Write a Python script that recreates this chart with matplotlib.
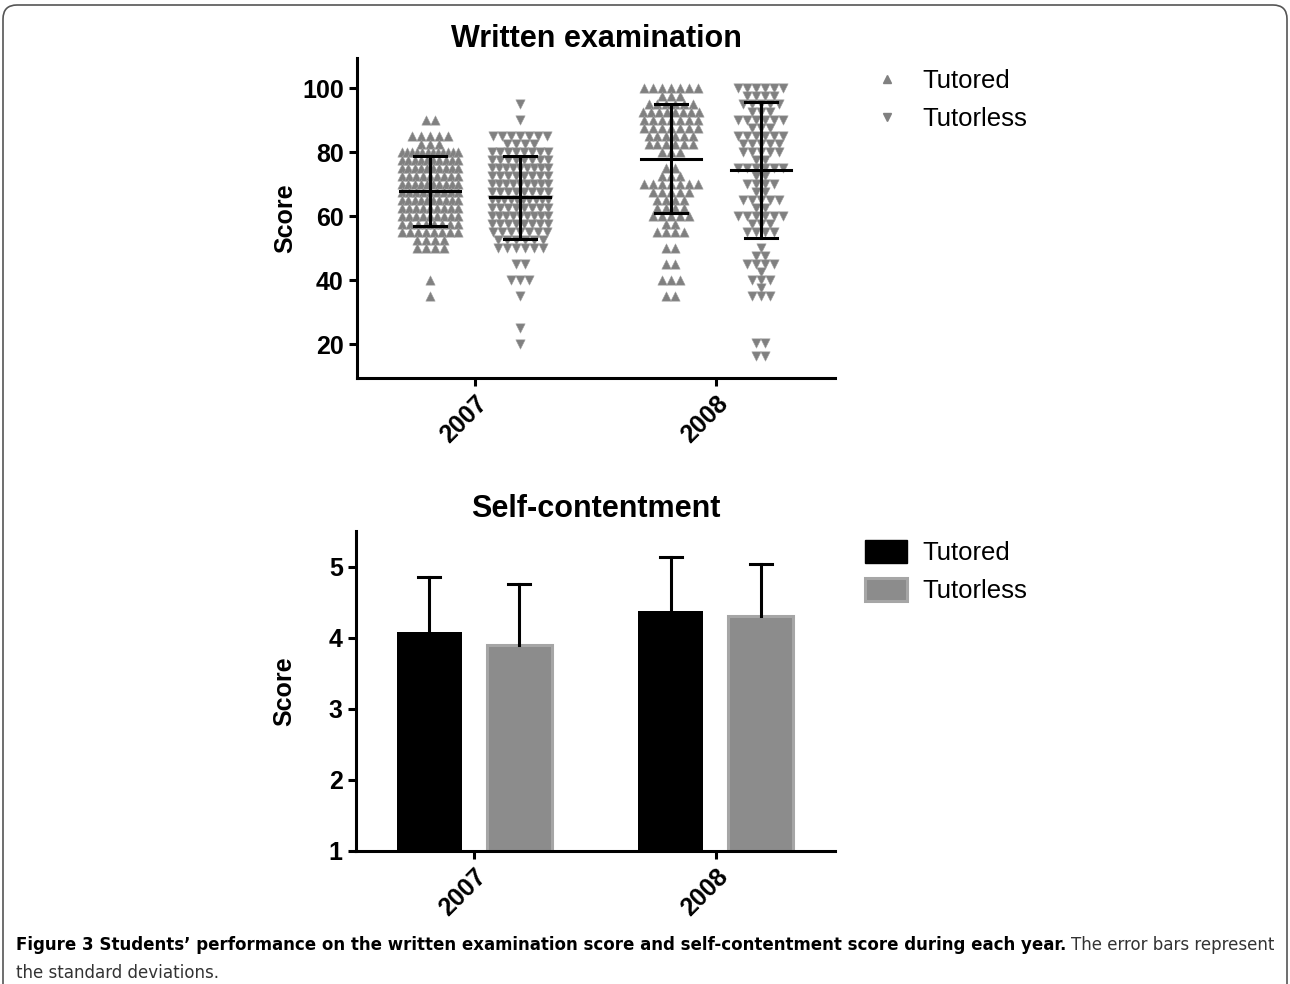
import numpy as np
import matplotlib
matplotlib.use('Agg')
import matplotlib.pyplot as plt
from matplotlib import font_manager
from matplotlib.patches import FancyBboxPatch, Patch
from matplotlib.lines import Line2D
from matplotlib.transforms import IdentityTransform

plt.rcParams['font.family'] = ['Liberation Sans', 'DejaVu Sans']

years = ['2007', '2008']

# written examination: score levels and number of students at each level
tut07_vals = [90, 85, 82.5, 80, 77.5, 75, 72.5, 70, 67.5, 65, 62.5, 60, 57.5, 55, 52.5, 50, 40, 35]
tut07_cnt = [2, 5, 3, 12, 10, 10, 9, 10, 9, 10, 9, 9, 8, 8, 4, 4, 1, 1]

less07_vals = [95, 90, 85, 82.5, 80, 77.5, 75, 72.5, 70, 67.5, 65, 62.5, 60, 57.5, 55, 52.5, 50,
               45, 40, 35, 25, 20]
less07_cnt = [1, 1, 7, 4, 8, 8, 9, 8, 9, 8, 10, 8, 9, 8, 7, 6, 6, 2, 3, 1, 1, 1]

tut08_vals = [100, 97.5, 95, 92.5, 90, 87.5, 85, 82.5, 80, 75, 72.5, 70, 67.5, 65, 62.5, 60, 57.5,
              55, 50, 45, 40, 35]
tut08_cnt = [7, 3, 6, 8, 7, 7, 6, 6, 3, 2, 3, 7, 5, 4, 4, 5, 2, 4, 2, 2, 3, 2]

less08_vals = [100, 97.5, 95, 92.5, 90, 87.5, 85, 82.5, 80, 77.5, 75, 72.5, 70, 67.5, 65, 62.5, 60,
               57.5, 55, 50, 47.5, 45, 42.5, 40, 37.5, 35, 20.5, 16.5]
less08_cnt = [6, 4, 5, 3, 6, 3, 6, 5, 5, 2, 6, 2, 4, 2, 5, 2, 6, 3, 4, 1, 2, 4, 1, 3, 1, 3, 2, 2]

# mean and standard deviation (error bars)
exam_mean_tut = [68, 78]
exam_sd_tut = [11, 17]
exam_mean_less = [66, 74.4]
exam_sd_less = [13, 21.2]

# self-contentment
self_mean_tut = [4.08, 4.38]
self_sd_tut = [0.78, 0.76]
self_mean_less = [3.89, 4.30]
self_sd_less = [0.87, 0.73]

caption_bold = ('Figure 3 Students\u2019 performance on the written examination score and '
                'self-contentment score during each year.')
caption_normal = 'The error bars represent'
caption_line2 = 'the standard deviations.'

GRAY = '#808080'
BAR_GRAY = '#8c8c8c'
BAR_EDGE = '#a6a6a6'
LW = 2.2
FS = 18

W, H = 1290, 984
fig = plt.figure(figsize=(W / 100, H / 100), dpi=100)


def ax_rect(left, right, top, bottom):
    return [left / W, 1 - bottom / H, (right - left) / W, (bottom - top) / H]


def style_axes(ax):
    for s in ['top', 'right']:
        ax.spines[s].set_visible(False)
    for s in ['left', 'bottom']:
        ax.spines[s].set_linewidth(LW)
    ax.tick_params(width=LW, length=6, labelsize=FS, direction='out')
    for lab in ax.get_yticklabels() + ax.get_xticklabels():
        lab.set_fontweight('bold')
    ax.set_xticks([0, 1])
    ax.set_xticklabels(years, rotation=45, ha='right', rotation_mode='anchor',
                       fontweight='bold', fontsize=FS)
    ax.set_ylabel('Score', fontsize=FS, fontweight='bold')
    ax.yaxis.set_label_coords(-0.125, 0.5)
    ax.set_xlim(-0.49, 1.494)


def swarm(vals, cnts, center):
    # spread points with the same score side by side around the column center
    px = 1 / 241.0
    xs, ys = [], []
    for v, n in zip(vals, cnts):
        step = 9 * px if n < 2 else min(9 * px, 56 * px / (n - 1))
        offs = (np.arange(n) - (n - 1) / 2) * step
        xs.extend(center + offs)
        ys.extend([v] * n)
    return xs, ys


off = 45 / 241.0

# ---------- Written examination ----------
ax1 = fig.add_axes(ax_rect(357, 835, 58, 378))
groups = [(tut07_vals, tut07_cnt, 0 - off, '^'),
          (less07_vals, less07_cnt, 0 + off, 'v'),
          (tut08_vals, tut08_cnt, 1 - off, '^'),
          (less08_vals, less08_cnt, 1 + off, 'v')]
for vals, cnts, c, m in groups:
    xs, ys = swarm(vals, cnts, c)
    ax1.scatter(xs, ys, marker=m, s=45, color=GRAY, edgecolors='#a0a0a0', linewidths=0.4,
                zorder=2)

means = [exam_mean_tut[0], exam_mean_less[0], exam_mean_tut[1], exam_mean_less[1]]
sds = [exam_sd_tut[0], exam_sd_less[0], exam_sd_tut[1], exam_sd_less[1]]
centers = [0 - off, 0 + off, 1 - off, 1 + off]
mw = 30 / 241.0
cw = 16 / 241.0
for c, mu, sd in zip(centers, means, sds):
    ax1.plot([c - mw, c + mw], [mu, mu], color='black', lw=LW, zorder=3)
    ax1.plot([c, c], [mu - sd, mu + sd], color='black', lw=LW, zorder=3)
    ax1.plot([c - cw, c + cw], [mu + sd, mu + sd], color='black', lw=LW, zorder=3)
    ax1.plot([c - cw, c + cw], [mu - sd, mu - sd], color='black', lw=LW, zorder=3)

ax1.set_ylim(9.5, 109.5)
ax1.set_yticks([20, 40, 60, 80, 100])
style_axes(ax1)
ax1.set_title('Written examination', fontsize=22, fontweight='bold', pad=8)

h1 = [Line2D([], [], marker='^', ls='none', color=GRAY, ms=6),
      Line2D([], [], marker='v', ls='none', color=GRAY, ms=6)]
ax1.legend(h1, ['Tutored', 'Tutorless'], loc='upper left', bbox_to_anchor=(861 / W, 1 - 69 / H),
           bbox_transform=fig.transFigure, frameon=False, fontsize=18.5, handlelength=2.0,
           handletextpad=0.39, labelspacing=0.56, borderpad=0, borderaxespad=0)

# ---------- Self-contentment ----------
ax2 = fig.add_axes(ax_rect(356, 835, 531, 851))
bw = 65 / 241.0
x = np.arange(len(years))
ax2.bar(x - off, np.array(self_mean_tut) - 1, bw, bottom=1, color='black', zorder=2)
ax2.bar(x + off, np.array(self_mean_less) - 1, bw, bottom=1, color=BAR_GRAY,
        edgecolor=BAR_EDGE, linewidth=2.2, zorder=2)
ecw = 11 / 241.0
for xs, mu, sd in [(x - off, self_mean_tut, self_sd_tut), (x + off, self_mean_less, self_sd_less)]:
    for xi, m, s in zip(xs, mu, sd):
        ax2.plot([xi, xi], [m, m + s], color='black', lw=LW, zorder=3)
        ax2.plot([xi - ecw, xi + ecw], [m + s, m + s], color='black', lw=LW, zorder=3)

ax2.set_ylim(1, 5.5)
ax2.set_yticks([1, 2, 3, 4, 5])
style_axes(ax2)
ax2.set_title('Self-contentment', fontsize=22, fontweight='bold', pad=10)

h2 = [Patch(facecolor='black', edgecolor='black'),
      Patch(facecolor=BAR_GRAY, edgecolor=BAR_EDGE, linewidth=2.2)]
ax2.legend(h2, ['Tutored', 'Tutorless'], loc='upper left', bbox_to_anchor=(865 / W, 1 - 540 / H),
           bbox_transform=fig.transFigure, frameon=False, fontsize=18.5, handlelength=1.63,
           handleheight=1.0, handletextpad=0.62, labelspacing=0.5, borderpad=0, borderaxespad=0)

# ---------- frame and caption ----------
frame = FancyBboxPatch((3, -30), W - 6, H - 5 + 30, boxstyle='round,pad=0,rounding_size=14',
                       transform=IdentityTransform(), facecolor='none', edgecolor='#555555',
                       linewidth=1.2)
fig.add_artist(frame)

names = {f.name for f in font_manager.fontManager.ttflist}
if 'Liberation Sans Narrow' in names:
    cap_font = dict(family='Liberation Sans Narrow')
else:
    cap_font = dict(family='DejaVu Sans', stretch='condensed')

renderer = fig.canvas.get_renderer()
probe_b = fig.text(0, 0, caption_bold, fontsize=12, fontweight='bold', **cap_font)
probe_n = fig.text(0, 0, caption_normal, fontsize=12, **cap_font)
wb = probe_b.get_window_extent(renderer).width
wn = probe_n.get_window_extent(renderer).width
probe_b.remove()
probe_n.remove()
gap = 0.25 * 12 / 72 * 100
scale = (1275 - 16) / (wb + wn + gap)
cfs = 12 * scale

y1 = 1 - 950 / H
y2 = 1 - 978 / H
fig.text(16 / W, y1, caption_bold, fontsize=cfs, fontweight='bold', color='black', **cap_font)
fig.text((16 + (wb + gap) * scale) / W, y1, caption_normal, fontsize=cfs, color='#333333', **cap_font)
fig.text(16 / W, y2, caption_line2, fontsize=cfs, color='#333333', **cap_font)

fig.savefig('out.png', dpi=100)
